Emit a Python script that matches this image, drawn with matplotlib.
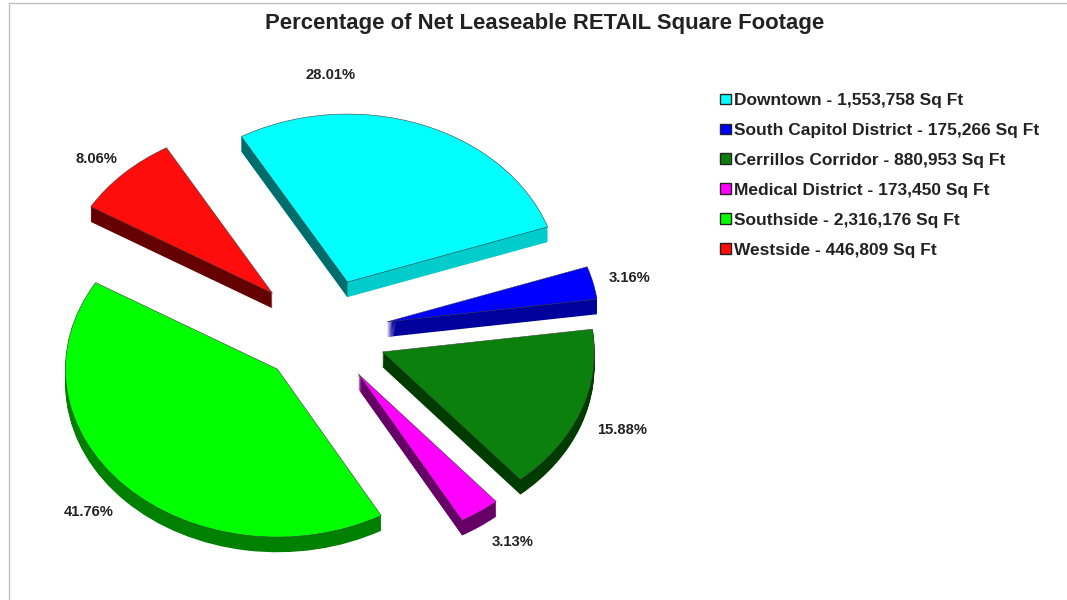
import matplotlib
matplotlib.use("Agg")
import numpy as np
import matplotlib.pyplot as plt
from matplotlib.lines import Line2D
from matplotlib.patches import Patch, Polygon

plt.rcParams['font.family'] = ['Liberation Sans', 'DejaVu Sans']

districts = ["Downtown", "South Capitol District", "Cerrillos Corridor",
             "Medical District", "Southside", "Westside"]
sq_ft = [1553758, 175266, 880953, 173450, 2316176, 446809]

top_colors = ["#00ffff", "#0000ff", "#0c800c", "#ff00ff", "#00ff00", "#ff0c0c"]
side_colors = ["#00cccc", "#00009c", "#003c00", "#660066", "#008000", "#640000"]
explode = [0.33, 0.31, 0.30, 0.29, 0.30, 0.34]
depth = 0.09  # height of the slices, in pie radii
label_xy = [(331, 75), (630, 278), (622, 430), (513, 542), (89, 512), (96, 159)]

W, H = 1067, 600
cx, cy = 323, 334   # pie centre in pixels
rx, ry = 212, 168   # squashed radii in pixels

fig = plt.figure(figsize=(W / 100, H / 100), dpi=100)
ax = fig.add_axes([0, 0, 1, 1])

# extrusion: same pie stacked downwards, then the top face
for k in np.linspace(depth, 0.005, 16):
    ax.pie(sq_ft, explode=explode, colors=side_colors, startangle=120,
           counterclock=False, center=(0, -k))
top, _ = ax.pie(sq_ft, explode=explode, colors=top_colors, startangle=120,
                counterclock=False, wedgeprops=dict(edgecolor="#404040", linewidth=0.4))
for w in top:
    w.set_zorder(3)

# Downtown has a darker wall along its left edge
w = top[0]
a = np.deg2rad(w.theta2)
c0 = np.array(w.center)
c1 = c0 + [np.cos(a) * w.r, np.sin(a) * w.r]
wall = Polygon([c0, c1, c1 - [0, depth], c0 - [0, depth]], closed=True,
               facecolor="#006c6c", edgecolor="none", zorder=2)
ax.add_patch(wall)

ax.set_aspect("auto")
ax.set_xlim(-cx / rx, (W - cx) / rx)
ax.set_ylim((cy - H) / ry, cy / ry)
ax.axis("off")

total = sum(sq_ft)
for v, (x, y) in zip(sq_ft, label_xy):
    fig.text(x / W, 1 - y / H, f"{v / total * 100:.2f}%", ha="center", va="center",
             fontsize=10.6, fontweight="bold", color="#222222")

fig.text(545 / W, 1 - 24 / H, "Percentage of Net Leaseable RETAIL Square Footage",
         ha="center", va="center", fontsize=15.9, fontweight="bold", color="#222222")

handles = [Patch(facecolor=c, edgecolor="#222222", linewidth=1) for c in top_colors]
labels = [f"{d} - {v:,} Sq Ft" for d, v in zip(districts, sq_ft)]
ax.legend(handles, labels, loc="upper left", bbox_to_anchor=(720 / W, 1 - 93 / H),
          frameon=False, borderpad=0, borderaxespad=0,
          handlelength=0.64, handleheight=0.55, handletextpad=0.18, labelspacing=0.86,
          labelcolor="#222222", prop=dict(weight="bold", size=12.5))

fig.add_artist(Line2D([9 / W, 1], [1 - 3 / H, 1 - 3 / H], color="#c0c0c0", lw=1))
fig.add_artist(Line2D([9 / W, 9 / W], [1 - 3 / H, 0], color="#c0c0c0", lw=1))

fig.savefig("out.png", dpi=100)
